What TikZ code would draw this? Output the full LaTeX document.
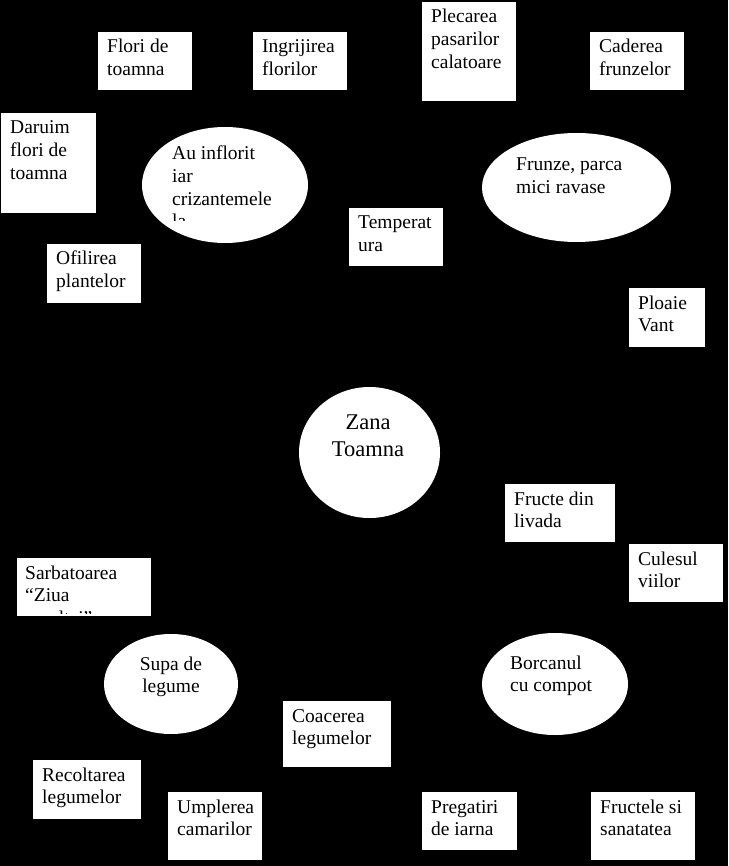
\documentclass[tikz,border=0pt]{standalone}
\usepackage{fontspec}
\setmainfont{Liberation Serif}
\usetikzlibrary{shapes.geometric}
\tikzset{
  boxst/.style={draw=black, fill=white, line width=0.6pt, inner sep=0pt, anchor=north west},
  oval/.style={ellipse, fill=white, draw=none, inner sep=0pt},
  txt/.style={inner sep=0pt, font=\fontsize{19.5}{22.6}\selectfont, text=black},
  bigtxt/.style={inner sep=0pt, font=\fontsize{22.5}{27}\selectfont, text=black},
}
\newcommand\mybox[6]{%
  \node[boxst, minimum width=#4pt, minimum height=#5pt] (#1) at (#2,#3) {};
  \node[txt, anchor=base west] (#1t) at ({#2+10},{#3+22}) {\parbox[t]{150pt}{#6}};
}
\begin{document}
\begin{tikzpicture}[x=1pt,y=-1pt]
\useasboundingbox (0,0) rectangle (728,866);
\fill[black] (0,0) rectangle (728,866);

% boxes
\mybox{flori}{97}{31}{95}{59}{Flori de\\toamna}
\mybox{ingr}{252}{31}{95}{59}{Ingrijirea\\florilor}
\mybox{daruim}{0}{112}{96}{101}{Daruim\\flori de\\toamna}
\mybox{ofil}{46}{243}{95}{60}{Ofilirea\\plantelor}
\mybox{temp}{348}{207}{95}{59}{Temperat\\ura}
\mybox{plec}{421}{1}{95}{100}{Plecarea\\pasarilor\\calatoare}
\mybox{cader}{589}{31}{95}{59}{Caderea\\frunzelor}
\mybox{ploaie}{628}{287}{77}{60}{Ploaie\\Vant}
\mybox{coac}{282}{700}{109}{67}{Coacerea\\legumelor}
\mybox{recol}{32}{759}{109}{60}{Recoltarea\\legumelor}
\mybox{umpl}{167}{791}{95}{69}{Umplerea\\camarilor}
\mybox{fructe}{504}{483}{111}{59}{Fructe din\\livada}
\mybox{cules}{628}{543}{95}{59}{Culesul\\viilor}
\mybox{preg}{421}{791}{96}{59}{Pregatiri\\de iarna}
\mybox{fructele}{590}{791}{105}{69}{Fructele si\\sanatatea}

% clipped box
\node[boxst, minimum width=135pt, minimum height=59pt] (sarb) at (16,557) {};
\begin{scope}
  \clip (16,557) rectangle (151,613);
  \node[txt, anchor=base west] (sarbt) at (25,579) {\parbox[t]{150pt}{Sarbatoarea\\“Ziua\\recoltei”}};
\end{scope}

% ellipses
\node[oval, minimum width=166pt, minimum height=116pt] (au) at (225,185) {};
\begin{scope}
  \clip (142,127) rectangle (308,221);
  \node[txt, anchor=base west] (aut) at (172,160) {\parbox[t]{150pt}{Au inflorit\\iar\\crizantemele\\la}};
\end{scope}

\node[oval, minimum width=189pt, minimum height=109pt] (frunze) at (576.5,187.5) {};
\node[txt, anchor=base west] (frunzet) at (516,171) {\parbox[t]{150pt}{Frunze, parca\\mici ravase}};

\node[oval, minimum width=141pt, minimum height=131pt] (zana) at (369.5,452.5) {};
\node[bigtxt, anchor=base] (zanat) at (368,429) {\parbox[t]{150pt}{\centering Zana\\Toamna}};

\node[oval, minimum width=134pt, minimum height=100pt] (supa) at (171,684) {};
\node[txt, anchor=base] (supat) at (171,670) {\parbox[t]{150pt}{\centering Supa de\\legume}};

\node[oval, minimum width=146pt, minimum height=102pt] (borc) at (555,684) {};
\node[txt, anchor=base west] (borct) at (510,669) {\parbox[t]{150pt}{Borcanul\\cu compot}};
\end{tikzpicture}
\end{document}
